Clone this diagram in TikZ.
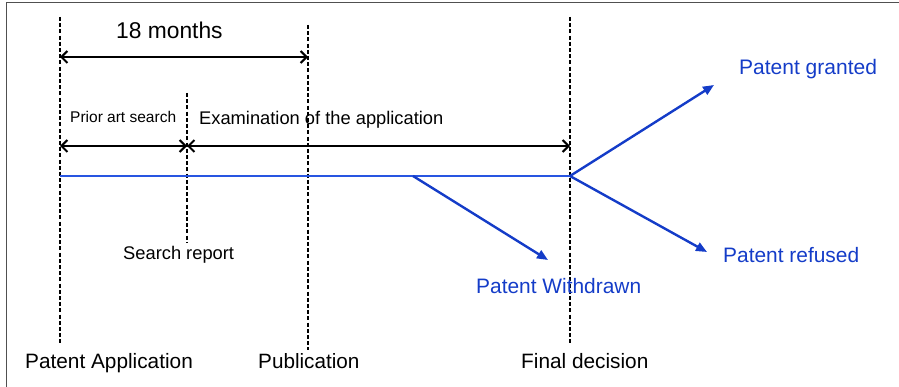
\documentclass[tikz,border=0pt]{standalone}
\usepackage{fontspec}
\setmainfont{Liberation Sans}
\usetikzlibrary{arrows.meta}
\definecolor{frameGray}{RGB}{80,80,80}
\definecolor{flowBlue}{RGB}{20,60,200}
\definecolor{lineBlue}{RGB}{40,85,225}
\tikzset{
  milestone/.style={draw=black, line width=1.4pt, dash pattern=on 4pt off 2.2pt},
  span/.style={draw=black, line width=2pt, {Straight Barb[length=6pt,width=12pt]}-{Straight Barb[length=6pt,width=12pt]}},
  outcome/.style={draw=flowBlue, line width=2.4pt, -{Triangle[length=11pt,width=9pt]}},
  lbl/.style={anchor=base west, inner sep=0pt, text=black},
  bluelbl/.style={lbl, text=flowBlue}
}
\begin{document}
\begin{tikzpicture}[x=1pt,y=-1pt]
\useasboundingbox (0,0) rectangle (899,387);
% frame edges
\draw[frameGray, line width=1.8pt] (6.5,387) -- (6.5,2.5) -- (899,2.5);

% milestones
\coordinate (appTop) at (60,17);   \coordinate (appBot) at (60,343);
\coordinate (srTop) at (187,93);   \coordinate (srBot) at (187,243);
\coordinate (pubTop) at (308,25);  \coordinate (pubBot) at (308,350);
\coordinate (finTop) at (570,17);  \coordinate (finBot) at (570,343);
\draw[milestone] (appTop) -- (appBot);
\draw[milestone] (srTop) -- (srBot);
\draw[milestone] (pubTop) -- (pubBot);
\draw[milestone] (finTop) -- (finBot);

% durations
\coordinate (m18a) at (60,57);  \coordinate (m18b) at (308,57);
\coordinate (pasA) at (60,146); \coordinate (pasB) at (187,146);
\coordinate (exB) at (570,146);
\draw[span] (m18a) -- (m18b);
\draw[span] (pasA) -- (pasB);
\draw[span] (pasB) -- (exB);

% timeline
\coordinate (tlStart) at (60,176);
\coordinate (wdStart) at (413,176);
\coordinate (decision) at (570,176);
\draw[lineBlue, line width=1.3pt] (tlStart) -- (decision);

% outcomes
\coordinate (wdEnd) at (548,260);
\coordinate (grEnd) at (714,85);
\coordinate (rfEnd) at (707,252);
\draw[outcome] (wdStart) -- (wdEnd);
\draw[outcome] (decision) -- (grEnd);
\draw[outcome] (decision) -- (rfEnd);

% labels
\node[lbl, font=\fontsize{22.8}{26}\selectfont] (t18) at (116,39) {18 months};
\node[lbl, font=\fontsize{15.5}{18}\selectfont] (tpas) at (70,122.5) {Prior art search};
\node[lbl, font=\fontsize{18.3}{21}\selectfont] (tex) at (199,125) {Examination of the application};
\node[lbl, font=\fontsize{18.3}{21}\selectfont] (tsr) at (123,260) {Search report};
\node[lbl, font=\fontsize{20.8}{24}\selectfont] (tapp) at (25,368) {Patent Application};
\node[lbl, font=\fontsize{20.7}{24}\selectfont] (tpub) at (258,368) {Publication};
\node[lbl, font=\fontsize{20.8}{24}\selectfont] (tfin) at (521,368) {Final decision};
\node[bluelbl, font=\fontsize{21}{24}\selectfont] (tgr) at (739,75) {Patent granted};
\node[bluelbl, font=\fontsize{20.9}{24}\selectfont] (trf) at (723,263) {Patent refused};
\node[bluelbl, font=\fontsize{20.9}{24}\selectfont] (twd) at (476,293) {Patent Withdrawn};
\end{tikzpicture}
\end{document}
